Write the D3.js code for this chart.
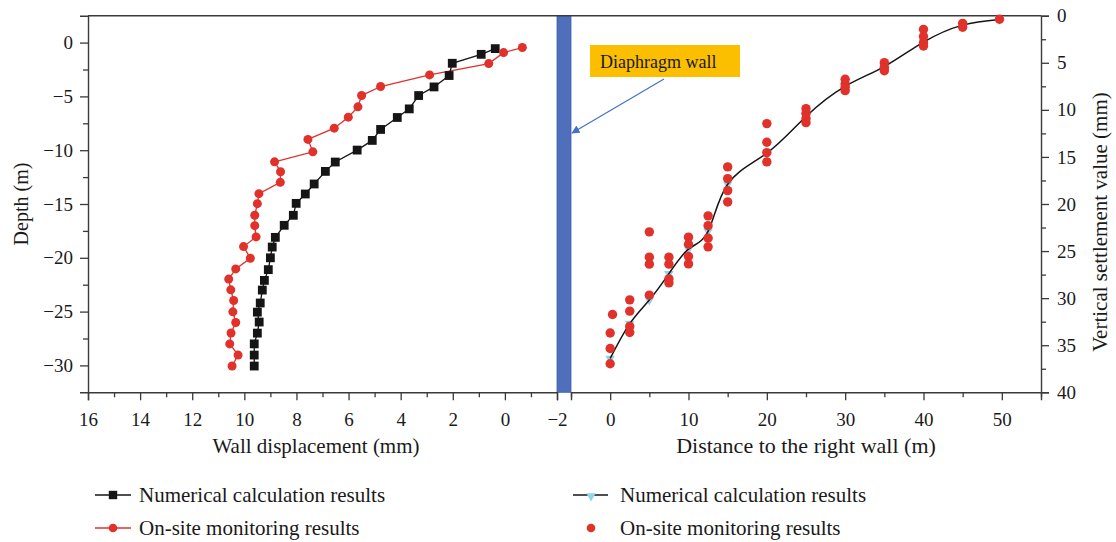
<!DOCTYPE html>
<html>
<head>
<meta charset="utf-8">
<script src="https://cdn.jsdelivr.net/npm/d3@7"></script>
<style>
  html, body { margin: 0; padding: 0; background: #fff; }
  svg { display: block; }
  text { font-family: "Liberation Serif", "DejaVu Serif", serif; fill: #1a1a1a; }
</style>
</head>
<body>
<svg id="chart" width="1116" height="542"></svg>
<script>
// ---------- Data ----------
// Left panel: wall displacement (mm) vs depth (m)
const leftCalcDisp  = [0.37,0.91,2.02,2.14,2.72,3.31,3.67,4.13,4.77,5.09,5.67,6.51,6.89,7.32,7.66,8.01,8.12,8.47,8.81,8.93,9.0,9.08,9.23,9.31,9.39,9.5,9.43,9.5,9.62,9.62,9.62];
const leftCalcDepth = [-0.56,-1.09,-1.92,-3.06,-4.12,-4.92,-6.16,-6.96,-8.07,-9.09,-9.99,-11.1,-11.97,-13.14,-14.07,-14.94,-16.05,-16.98,-18.1,-19.0,-20.0,-21.1,-22.1,-23.0,-24.2,-25.05,-25.97,-27.0,-28.0,-29.04,-30.06];
const leftMonDisp   = [-0.67,0.05,0.62,2.89,4.77,5.5,5.64,6.01,6.55,7.56,7.37,8.84,8.61,8.62,9.44,9.5,9.6,9.6,9.55,10.03,9.77,10.33,10.6,10.52,10.41,10.44,10.33,10.51,10.56,10.24,10.47];
const leftMonDepth  = [-0.46,-0.93,-1.95,-3.0,-4.08,-4.92,-5.97,-6.93,-7.95,-9.0,-10.15,-11.08,-12.0,-12.99,-14.04,-14.97,-16.05,-17.01,-18.06,-18.96,-20.04,-21.03,-21.98,-22.98,-23.97,-25.02,-26.01,-26.99,-28.0,-29.04,-30.06];

// Right panel: distance to the right wall (m) vs vertical settlement (mm)
const rightCalcDist   = [0,2.5,5,7.5,10,12.5,15,20,25,30,35,40,45,49.7];
const rightCalcSettle = [36.4,32.7,30.2,27.4,24.8,22.9,17.9,14.6,10.7,7.5,5.4,2.8,1.0,0.4];
const rightMonDist   = [49.7, 45,45, 40,40,40,40, 35,35,35, 30,30,30,30, 25,25,25,25, 20,20,20,20, 15,15,15,15, 12.5,12.5,12.5,12.5, 10,10,10,10, 7.5,7.5,7.5,7.5, 5,5,5,5, 2.5,2.5,2.5,2.5, 0.3,0,0,0];
const rightMonSettle = [0.38, 0.81,1.23, 1.45,2.22,2.87,3.22, 4.99,5.48,5.84, 6.75,7.25,7.6,7.96, 9.87,10.36,10.93,11.36, 11.46,13.44,14.54,15.53, 16.06,17.3,18.58,19.78, 21.26,22.3,23.63,24.55, 23.52,24.27,25.58,26.36, 25.65,26.39,27.95,28.38, 22.96,25.65,26.39,29.68, 30.18,31.38,33.0,33.65, 31.74,33.7,35.35,36.97];

// Ticks
const leftXTicks  = [16,14,12,10,8,6,4,2,0,-2];
const leftXMinor  = [15,13,11,9,7,5,3,1,-1];
const leftYTicks  = [0,-5,-10,-15,-20,-25,-30];
const leftYMinor  = [-2.5,-7.5,-12.5,-17.5,-22.5,-27.5];
const rightXTicks = [0,10,20,30,40,50];
const rightXMinor = [-5,5,15,25,35,45,55];
const rightYTicks = [0,5,10,15,20,25,30,35,40];
const rightYMinor = [2.5,7.5,12.5,17.5,22.5,27.5,32.5,37.5];

// Labels
const leftXTitle  = "Wall displacement (mm)";
const leftYTitle  = "Depth (m)";
const rightXTitle = "Distance to the right wall (m)";
const rightYTitle = "Vertical settlement value (mm)";
const wallLabel   = "Diaphragm wall";
const legendLabels = ["Numerical calculation results", "On-site monitoring results"];

// ---------- Layout ----------
const svg = d3.select("#chart");
const yTop = 15.7, yBot = 392.3;
const xL = d3.scaleLinear().domain([16, -2]).range([88, 557]);
const xR = d3.scaleLinear().domain([-5, 55]).range([571, 1041]);
const yL = d3.scaleLinear().domain([2.5, -32.5]).range([yTop, yBot]);
const yR = d3.scaleLinear().domain([0, 40]).range([yTop, yBot]);

const RED = "#e0312a", BLACK = "#151515", CYAN = "#8dd5e8", BLUE = "#4f6fbd", AXIS = "#3a3a3a";

// Diaphragm wall bar
svg.append("rect")
  .attr("x", xL(-2)).attr("y", yTop)
  .attr("width", xR(-5) - xL(-2)).attr("height", yBot - yTop)
  .attr("fill", BLUE).attr("stroke", "#3f5fae").attr("stroke-width", 0.8);

function styleAxis(g) {
  g.selectAll(".domain").attr("stroke", AXIS).attr("stroke-width", 1.4);
  g.selectAll(".tick line").attr("stroke", AXIS).attr("stroke-width", 1.3);
  g.selectAll("text").attr("font-family", '"Liberation Serif", serif').attr("font-size", 19).attr("fill", "#1a1a1a");
}
function minor(g) {
  g.selectAll("text").remove();
  g.select(".domain").remove();
  g.selectAll(".tick line").attr("stroke", AXIS).attr("stroke-width", 1.3);
}
const numFmt = d3.format("");

// Left x axis
svg.append("g").attr("transform", `translate(0,${yBot})`)
  .call(d3.axisBottom(xL).tickValues(leftXTicks).tickSize(8).tickPadding(12).tickFormat(numFmt))
  .call(styleAxis);
svg.append("g").attr("transform", `translate(0,${yBot})`)
  .call(d3.axisBottom(xL).tickValues(leftXMinor).tickSize(5)).call(minor);

// Right x axis
svg.append("g").attr("transform", `translate(0,${yBot})`)
  .call(d3.axisBottom(xR).tickValues(rightXTicks).tickSize(8).tickPadding(12).tickFormat(numFmt))
  .call(styleAxis);
svg.append("g").attr("transform", `translate(0,${yBot})`)
  .call(d3.axisBottom(xR).tickValues(rightXMinor).tickSize(5)).call(minor);

// Left y axis
svg.append("g").attr("transform", `translate(88,0)`)
  .call(d3.axisLeft(yL).tickValues(leftYTicks).tickSize(8).tickPadding(7).tickFormat(numFmt))
  .call(styleAxis);
svg.append("g").attr("transform", `translate(88,0)`)
  .call(d3.axisLeft(yL).tickValues(leftYMinor).tickSize(5)).call(minor);

// Right y axis
svg.append("g").attr("transform", `translate(1041,0)`)
  .call(d3.axisRight(yR).tickValues(rightYTicks).tickSize(8).tickPadding(8).tickFormat(numFmt))
  .call(styleAxis);
svg.append("g").attr("transform", `translate(1041,0)`)
  .call(d3.axisRight(yR).tickValues(rightYMinor).tickSize(5)).call(minor);

// Top frame line
svg.append("line").attr("x1", 88).attr("x2", 1041).attr("y1", yTop).attr("y2", yTop)
  .attr("stroke", AXIS).attr("stroke-width", 1.4);

// Axis titles
svg.append("text").attr("x", 316).attr("y", 453).attr("text-anchor", "middle")
  .attr("font-size", 21).text(leftXTitle);
svg.append("text").attr("x", 806).attr("y", 453).attr("text-anchor", "middle")
  .attr("font-size", 22).text(rightXTitle);
svg.append("text").attr("transform", `translate(28,${yL(-15)}) rotate(-90)`).attr("text-anchor", "middle")
  .attr("font-size", 20).text(leftYTitle);
svg.append("text").attr("transform", `translate(1100,222) rotate(-90)`).attr("text-anchor", "middle")
  .attr("font-size", 21).attr("dy", "0.35em").text(rightYTitle);

// ---------- Left panel series ----------
const calcL = leftCalcDisp.map((v, i) => [v, leftCalcDepth[i]]);
const monL  = leftMonDisp.map((v, i) => [v, leftMonDepth[i]]);
const lineL = d3.line().x(d => xL(d[0])).y(d => yL(d[1]));

svg.append("path").datum(monL).attr("d", lineL).attr("fill", "none").attr("stroke", RED).attr("stroke-width", 1.3);
svg.append("path").datum(calcL).attr("d", lineL).attr("fill", "none").attr("stroke", BLACK).attr("stroke-width", 1.3);
svg.append("g").selectAll("rect").data(calcL).join("rect")
  .attr("x", d => xL(d[0]) - 4.4).attr("y", d => yL(d[1]) - 4.4)
  .attr("width", 8.8).attr("height", 8.8).attr("fill", BLACK);
svg.append("g").selectAll("circle").data(monL).join("circle")
  .attr("cx", d => xL(d[0])).attr("cy", d => yL(d[1])).attr("r", 4.5).attr("fill", RED);

// ---------- Right panel series ----------
const calcR = rightCalcDist.map((v, i) => [v, rightCalcSettle[i]]);
const monR  = rightMonDist.map((v, i) => [v, rightMonSettle[i]]);
const lineR = d3.line().x(d => xR(d[0])).y(d => yR(d[1])).curve(d3.curveNatural);
const tri = d3.symbol().type(d3.symbolTriangle).size(40);

svg.append("g").selectAll("path").data(calcR).join("path")
  .attr("d", tri).attr("transform", d => `translate(${xR(d[0])},${yR(d[1])}) rotate(180)`)
  .attr("fill", CYAN);
svg.append("path").datum(calcR).attr("d", lineR).attr("fill", "none").attr("stroke", BLACK).attr("stroke-width", 1.5);
svg.append("g").selectAll("circle").data(monR).join("circle")
  .attr("cx", d => xR(d[0])).attr("cy", d => yR(d[1])).attr("r", 4.7).attr("fill", RED);

// ---------- Diaphragm wall annotation ----------
svg.append("rect").attr("x", 590).attr("y", 45).attr("width", 150).attr("height", 32).attr("fill", "#fbbf00");
svg.append("text").attr("x", 600).attr("y", 68).attr("font-size", 18).text(wallLabel);
svg.append("defs").append("marker").attr("id", "arr").attr("viewBox", "0 0 10 10")
  .attr("refX", 9).attr("refY", 5).attr("markerWidth", 7).attr("markerHeight", 7).attr("orient", "auto")
  .append("path").attr("d", "M0,0 L10,5 L0,10 z").attr("fill", "#4472c4");
svg.append("line").attr("x1", 664).attr("y1", 79).attr("x2", 572).attr("y2", 133)
  .attr("stroke", "#4472c4").attr("stroke-width", 1.2).attr("marker-end", "url(#arr)");

// ---------- Legend ----------
const lg = svg.append("g");
const rows = [495, 528];
lg.append("line").attr("x1", 95).attr("x2", 131).attr("y1", rows[0]).attr("y2", rows[0]).attr("stroke", BLACK).attr("stroke-width", 1.3);
lg.append("rect").attr("x", 113 - 4.2).attr("y", rows[0] - 4.2).attr("width", 8.4).attr("height", 8.4).attr("fill", BLACK);
lg.append("line").attr("x1", 95).attr("x2", 131).attr("y1", rows[1]).attr("y2", rows[1]).attr("stroke", RED).attr("stroke-width", 1.3);
lg.append("circle").attr("cx", 113).attr("cy", rows[1]).attr("r", 4.3).attr("fill", RED);
lg.append("text").attr("x", 139).attr("y", rows[0]).attr("dy", "0.35em").attr("font-size", 21).text(legendLabels[0]);
lg.append("text").attr("x", 139).attr("y", rows[1]).attr("dy", "0.35em").attr("font-size", 21).text(legendLabels[1]);
lg.append("line").attr("x1", 573).attr("x2", 608).attr("y1", rows[0]).attr("y2", rows[0]).attr("stroke", BLACK).attr("stroke-width", 1.3);
lg.append("path").attr("d", tri).attr("transform", `translate(591,${rows[0] + 1}) rotate(180)`).attr("fill", CYAN);
lg.append("circle").attr("cx", 591).attr("cy", rows[1]).attr("r", 4.3).attr("fill", RED);
lg.append("text").attr("x", 620).attr("y", rows[0]).attr("dy", "0.35em").attr("font-size", 21).text(legendLabels[0]);
lg.append("text").attr("x", 620).attr("y", rows[1]).attr("dy", "0.35em").attr("font-size", 21).text(legendLabels[1]);
</script>
</body>
</html>
